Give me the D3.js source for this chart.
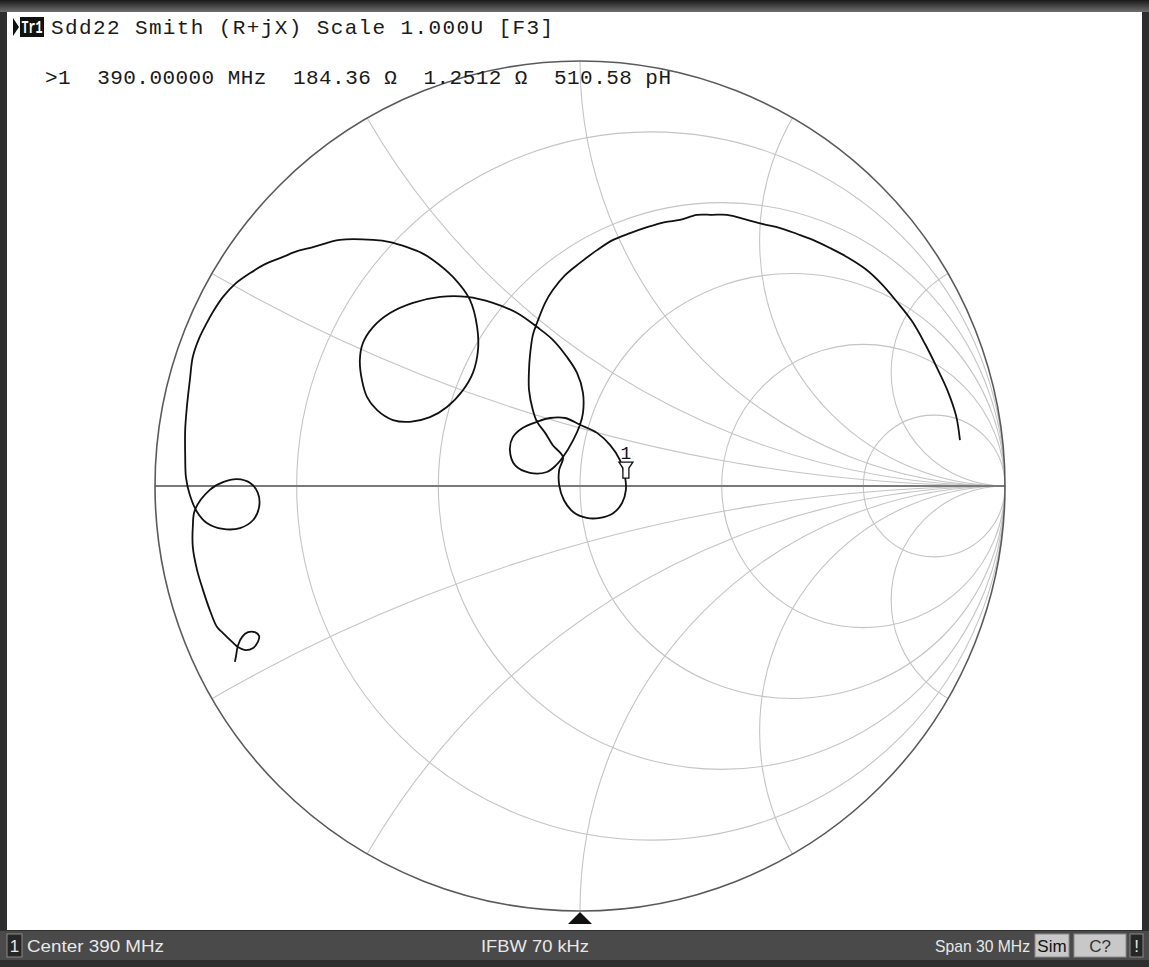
<!DOCTYPE html>
<html>
<head>
<meta charset="utf-8">
<script src="https://cdn.jsdelivr.net/npm/d3@7"></script>
<style>
  html, body { margin: 0; padding: 0; background: #2e2e2e; }
  svg { display: block; }
  text { white-space: pre; }
</style>
</head>
<body>
<div id="chart"></div>
<script>
// grid values (normalized impedance)
const resistanceCircles = [0.2, 0.5, 1, 2, 5];
const reactanceArcs = [0.268, 0.577, 1, 1.732, 3.732];

const traceRe = [
  -0.812, -0.809, -0.805, -0.795, -0.781, -0.765, -0.755, -0.758, -0.769, -0.788,
  -0.805, -0.816, -0.840, -0.854, -0.871, -0.887, -0.901, -0.911, -0.911, -0.906,
  -0.871, -0.840, -0.807, -0.776, -0.758, -0.755, -0.769, -0.800, -0.840, -0.878,
  -0.901, -0.918, -0.927, -0.929, -0.929, -0.925, -0.918, -0.911, -0.896, -0.878,
  -0.861, -0.840, -0.812, -0.776, -0.741, -0.699, -0.664, -0.628, -0.565, -0.487,
  -0.447, -0.407, -0.372, -0.346, -0.299, -0.259, -0.242, -0.240, -0.252, -0.275,
  -0.313, -0.353, -0.400, -0.440, -0.478, -0.501, -0.513, -0.518, -0.511, -0.487,
  -0.447, -0.393, -0.329, -0.266, -0.205, -0.148, -0.101, -0.064, -0.031, -0.007,
  0.007, 0.007, 0.000,
  -0.016, -0.040, -0.056, -0.078, -0.118, -0.153, -0.165, -0.158, -0.136, -0.101,
  -0.071, -0.035, 0.000, 0.040, 0.071, 0.094, 0.106, 0.108, 0.099, 0.078,
  0.047, 0.016, -0.016, -0.038, -0.049, -0.049, -0.040, -0.064, -0.082, -0.101,
  -0.111, -0.120, -0.120, -0.118, -0.111, -0.101, -0.082, -0.064, -0.035, 0.000,
  0.040, 0.078, 0.118, 0.158, 0.200, 0.235, 0.275, 0.311, 0.346, 0.393,
  0.431, 0.471, 0.511, 0.548, 0.588, 0.628, 0.671, 0.710, 0.746, 0.781,
  0.812, 0.840, 0.865, 0.885, 0.894
];
const traceIm = [
  -0.414, -0.398, -0.376, -0.355, -0.344, -0.344, -0.353, -0.367, -0.381, -0.386,
  -0.379, -0.369, -0.346, -0.332, -0.292, -0.245, -0.198, -0.144, -0.096, -0.056,
  -0.009, 0.009, 0.016, 0.007, -0.016, -0.049, -0.080, -0.099, -0.101, -0.087,
  -0.061, -0.021, 0.019, 0.073, 0.132, 0.186, 0.249, 0.304, 0.348, 0.384,
  0.414, 0.445, 0.475, 0.501, 0.522, 0.539, 0.553, 0.562, 0.579, 0.579,
  0.574, 0.562, 0.548, 0.532, 0.492, 0.438, 0.374, 0.320, 0.266, 0.226,
  0.186, 0.162, 0.151, 0.155, 0.179, 0.209, 0.249, 0.296, 0.336, 0.374,
  0.407, 0.431, 0.445, 0.445, 0.431, 0.407, 0.374, 0.344, 0.304, 0.266,
  0.219, 0.172, 0.144,
  0.108, 0.068, 0.049, 0.033, 0.031, 0.049, 0.085, 0.115, 0.136, 0.151,
  0.160, 0.160, 0.144, 0.125, 0.096, 0.061, 0.021, -0.009, -0.040, -0.064,
  -0.075, -0.075, -0.061, -0.033, 0.002, 0.038, 0.068, 0.096, 0.125, 0.151,
  0.179, 0.226, 0.273, 0.304, 0.355, 0.384, 0.431, 0.461, 0.496, 0.525,
  0.555, 0.579, 0.595, 0.609, 0.621, 0.626, 0.638, 0.638, 0.638, 0.626,
  0.616, 0.607, 0.593, 0.579, 0.560, 0.539, 0.511, 0.475, 0.433, 0.388,
  0.334, 0.278, 0.224, 0.165, 0.108
];

// marker 1 position on the trace
const markerRe = 0.108;
const markerIm = 0.014;

const titleText = "Sdd22 Smith (R+jX) Scale 1.000U [F3]";
const markerText = ">1  390.00000 MHz  184.36 \u03A9  1.2512 \u03A9  510.58 pH";
const statusLeft = "Center 390 MHz";
const statusMid = "IFBW 70 kHz";
const statusRight = "Span 30 MHz";

const W = 1149, H = 967;
const cx = 580, cy = 486, R = 425;

const svg = d3.select("#chart").append("svg")
    .attr("width", W)
    .attr("height", H);

// frame
const defs = svg.append("defs");
const grad = defs.append("linearGradient").attr("id", "topband")
    .attr("x1", 0).attr("y1", 0).attr("x2", 0).attr("y2", 1);
grad.append("stop").attr("offset", "0%").attr("stop-color", "#1a1a1a");
grad.append("stop").attr("offset", "100%").attr("stop-color", "#6e6e6e");
defs.append("clipPath").attr("id", "unit")
    .append("circle").attr("cx", cx).attr("cy", cy).attr("r", R);

svg.append("rect").attr("width", W).attr("height", H).attr("fill", "#2e2e2e");
svg.append("rect").attr("x", 0).attr("y", 0).attr("width", W).attr("height", 12)
    .attr("fill", "url(#topband)");
svg.append("rect").attr("x", 7).attr("y", 12).attr("width", 1135).attr("height", 918)
    .attr("fill", "#ffffff");

const x = d3.scaleLinear().domain([-1, 1]).range([cx - R, cx + R]);
const y = d3.scaleLinear().domain([-1, 1]).range([cy + R, cy - R]);
const len = v => x(v) - x(0);

// grid
const grid = svg.append("g").attr("clip-path", "url(#unit)")
    .attr("fill", "none").attr("stroke", "#c4c4c4").attr("stroke-width", 1.1);

grid.selectAll("circle.r")
  .data(resistanceCircles)
  .enter()
  .append("circle")
    .attr("class", "r")
    .attr("cx", d => x(d / (1 + d)))
    .attr("cy", y(0))
    .attr("r", d => len(1 / (1 + d)));

const xArcs = reactanceArcs.concat(reactanceArcs.map(d => -d));
grid.selectAll("circle.x")
  .data(xArcs)
  .enter()
  .append("circle")
    .attr("class", "x")
    .attr("cx", x(1))
    .attr("cy", d => y(1 / d))
    .attr("r", d => len(1 / Math.abs(d)));

// real axis
svg.append("line")
    .attr("x1", x(-1)).attr("x2", x(1))
    .attr("y1", y(0)).attr("y2", y(0))
    .attr("stroke", "#7a7a7a").attr("stroke-width", 2);

// outer circle
svg.append("circle")
    .attr("cx", x(0)).attr("cy", y(0)).attr("r", len(1))
    .attr("fill", "none").attr("stroke", "#5a5a5a").attr("stroke-width", 1.6);

// trace
const pts = traceRe.map((d, i) => [d, traceIm[i]]);
const line = d3.line()
    .x(d => x(d[0]))
    .y(d => y(d[1]))
    .curve(d3.curveCatmullRom.alpha(0.5));
svg.append("path")
    .datum(pts)
    .attr("d", line)
    .attr("fill", "none")
    .attr("stroke", "#111")
    .attr("stroke-width", 1.8)
    .attr("stroke-linejoin", "round");

// marker 1
const mx = x(markerRe), my = y(markerIm);
svg.append("path")
    .attr("d", `M${mx - 7},${my - 18} L${mx + 7},${my - 18} L${mx + 3},${my - 12} L${mx + 3},${my - 2} L${mx - 3},${my - 2} L${mx - 3},${my - 12} Z`)
    .attr("fill", "#fff").attr("stroke", "#111").attr("stroke-width", 1.3);
svg.append("text")
    .attr("x", mx).attr("y", my - 21)
    .attr("text-anchor", "middle")
    .attr("font-family", "Liberation Mono, monospace")
    .attr("font-size", 18)
    .attr("fill", "#111")
    .text("1");

// stimulus pointer at bottom
svg.append("path")
    .attr("d", `M${x(0)},${y(-1) + 1} L${x(0) + 12},${y(-1) + 13} L${x(0) - 12},${y(-1) + 13} Z`)
    .attr("fill", "#111");

// header
svg.append("path").attr("d", "M13,18 L19,27 L13,36 Z").attr("fill", "#111");
svg.append("rect").attr("x", 20).attr("y", 17).attr("width", 24).attr("height", 20).attr("fill", "#111");
svg.append("text")
    .attr("x", 32).attr("y", 33)
    .attr("text-anchor", "middle")
    .attr("font-family", "Liberation Mono, monospace")
    .attr("font-size", 18)
    .attr("font-weight", "bold")
    .attr("fill", "#fff")
    .attr("textLength", 21)
    .attr("lengthAdjust", "spacingAndGlyphs")
    .text("Tr1");
svg.append("text")
    .attr("x", 51).attr("y", 34)
    .attr("font-family", "Liberation Mono, monospace")
    .attr("font-size", 21)
    .attr("fill", "#1a1a1a")
    .attr("textLength", 502)
    .attr("lengthAdjust", "spacing")
    .text(titleText);
svg.append("text")
    .attr("x", 45).attr("y", 84)
    .attr("font-family", "Liberation Mono, monospace")
    .attr("font-size", 21)
    .attr("fill", "#1a1a1a")
    .attr("textLength", 626)
    .attr("lengthAdjust", "spacing")
    .text(markerText);

// status bar
const barFont = "Liberation Sans, sans-serif";
const bar = svg.append("g");
bar.append("rect").attr("x", 0).attr("y", 931).attr("width", W).attr("height", 29).attr("fill", "#4a4a4a");
bar.append("rect").attr("x", 7).attr("y", 934).attr("width", 15).attr("height", 23)
    .attr("fill", "#262626").attr("stroke", "#8a8a8a");
bar.append("text").attr("x", 14.5).attr("y", 952).attr("text-anchor", "middle")
    .attr("font-family", barFont).attr("font-size", 17).attr("fill", "#e8e8e8").text("1");
bar.append("text").attr("x", 27).attr("y", 952)
    .attr("font-family", barFont).attr("font-size", 17).attr("fill", "#e8e8e8")
    .attr("textLength", 137).attr("lengthAdjust", "spacingAndGlyphs").text(statusLeft);
bar.append("text").attr("x", 481).attr("y", 952)
    .attr("font-family", barFont).attr("font-size", 17).attr("fill", "#e8e8e8")
    .attr("textLength", 108).attr("lengthAdjust", "spacingAndGlyphs").text(statusMid);
bar.append("text").attr("x", 935).attr("y", 952)
    .attr("font-family", barFont).attr("font-size", 17).attr("fill", "#e8e8e8")
    .attr("textLength", 95).attr("lengthAdjust", "spacingAndGlyphs").text(statusRight);
const boxes = [
  {label: "Sim", x0: 1035, w: 34, fill: "#c8c8c8", color: "#111"},
  {label: "C?", x0: 1074, w: 52, fill: "#c8c8c8", color: "#333"},
  {label: "!", x0: 1130, w: 13, fill: "#262626", color: "#e8e8e8"}
];
boxes.forEach(b => {
  bar.append("rect").attr("x", b.x0).attr("y", 934).attr("width", b.w).attr("height", 23)
      .attr("fill", b.fill).attr("stroke", "#8a8a8a");
  bar.append("text").attr("x", b.x0 + b.w / 2).attr("y", 952).attr("text-anchor", "middle")
      .attr("font-family", barFont).attr("font-size", 17).attr("fill", b.color).text(b.label);
});
</script>
</body>
</html>
